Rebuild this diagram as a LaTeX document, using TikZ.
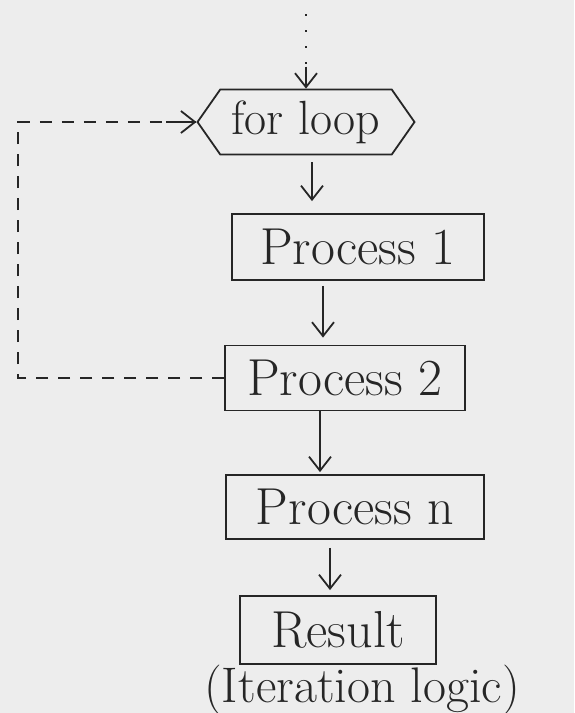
\documentclass[tikz,border=0pt]{standalone}
\usetikzlibrary{arrows.meta,shapes.symbols,calc}
\begin{document}
\begin{tikzpicture}[x=1pt,y=-1pt,
  ink/.style={draw=black!85, line width=1.8pt},
  procbox/.style={ink, rectangle, inner sep=0pt, font=\fontsize{52}{58}\selectfont, text=black!85},
  loopbox/.style={ink, signal, signal to=west and east, signal pointer angle=110, inner sep=0pt,
                  font=\fontsize{48}{54}\selectfont, text=black!85},
  flow/.style={ink, -{Straight Barb[length=14pt,width=22pt,line width=1.8pt]}},
  back/.style={ink, line width=1.5pt, dash pattern=on 12pt off 10pt},
  feed/.style={ink, line width=1.8pt, dash pattern=on 2pt off 14pt}
]
  % paper
  \fill[black!7] (0,0) rectangle (574,713);
  \useasboundingbox (0,0) rectangle (574,713);

  % flow nodes
  \node[loopbox, minimum width=217pt, minimum height=65pt] (loop) at (306,122) {for loop};
  \node[procbox, minimum width=252pt, minimum height=66pt] (p1) at (358,247) {Process 1};
  \node[procbox, minimum width=240pt, minimum height=65pt] (p2) at (345,378) {Process 2};
  \node[procbox, minimum width=258pt, minimum height=64pt] (pn) at (355,507) {Process n};
  \node[procbox, minimum width=196pt, minimum height=68pt] (res) at (338,630) {Result};
  \node[font=\fontsize{50}{56}\selectfont, text=black!85] (cap) at (362,690) {(Iteration logic)};

  % entry into the loop header
  \coordinate (entry) at (306,14);
  \draw[feed] (entry) -- ($(loop.north)+(0,-18)$);
  \draw[flow] ($(loop.north)+(0,-22)$) -- (loop.north);

  % forward flow, straight down
  \draw[flow] ([xshift=6pt,yshift=-7pt]loop.south) -- ([xshift=6pt,yshift=12pt]loop.south |- p1.north);
  \draw[flow] ([xshift=-35pt,yshift=-5pt]p1.south) -- ([xshift=-35pt,yshift=7pt]p1.south |- p2.north);
  \draw[flow] ([xshift=-25pt]p2.south) -- ([xshift=-25pt,yshift=2pt]p2.south |- pn.north);
  \draw[flow] ([xshift=-25pt,yshift=-8pt]pn.south) -- ([xshift=-25pt,yshift=5pt]pn.south |- res.north);

  % loop-back path
  \coordinate (turn) at (18,378);
  \draw[back] (p2.west) -- (turn) |- (loop.west);
  \draw[flow] ([xshift=-30pt]loop.west) -- (loop.west);
\end{tikzpicture}
\end{document}
